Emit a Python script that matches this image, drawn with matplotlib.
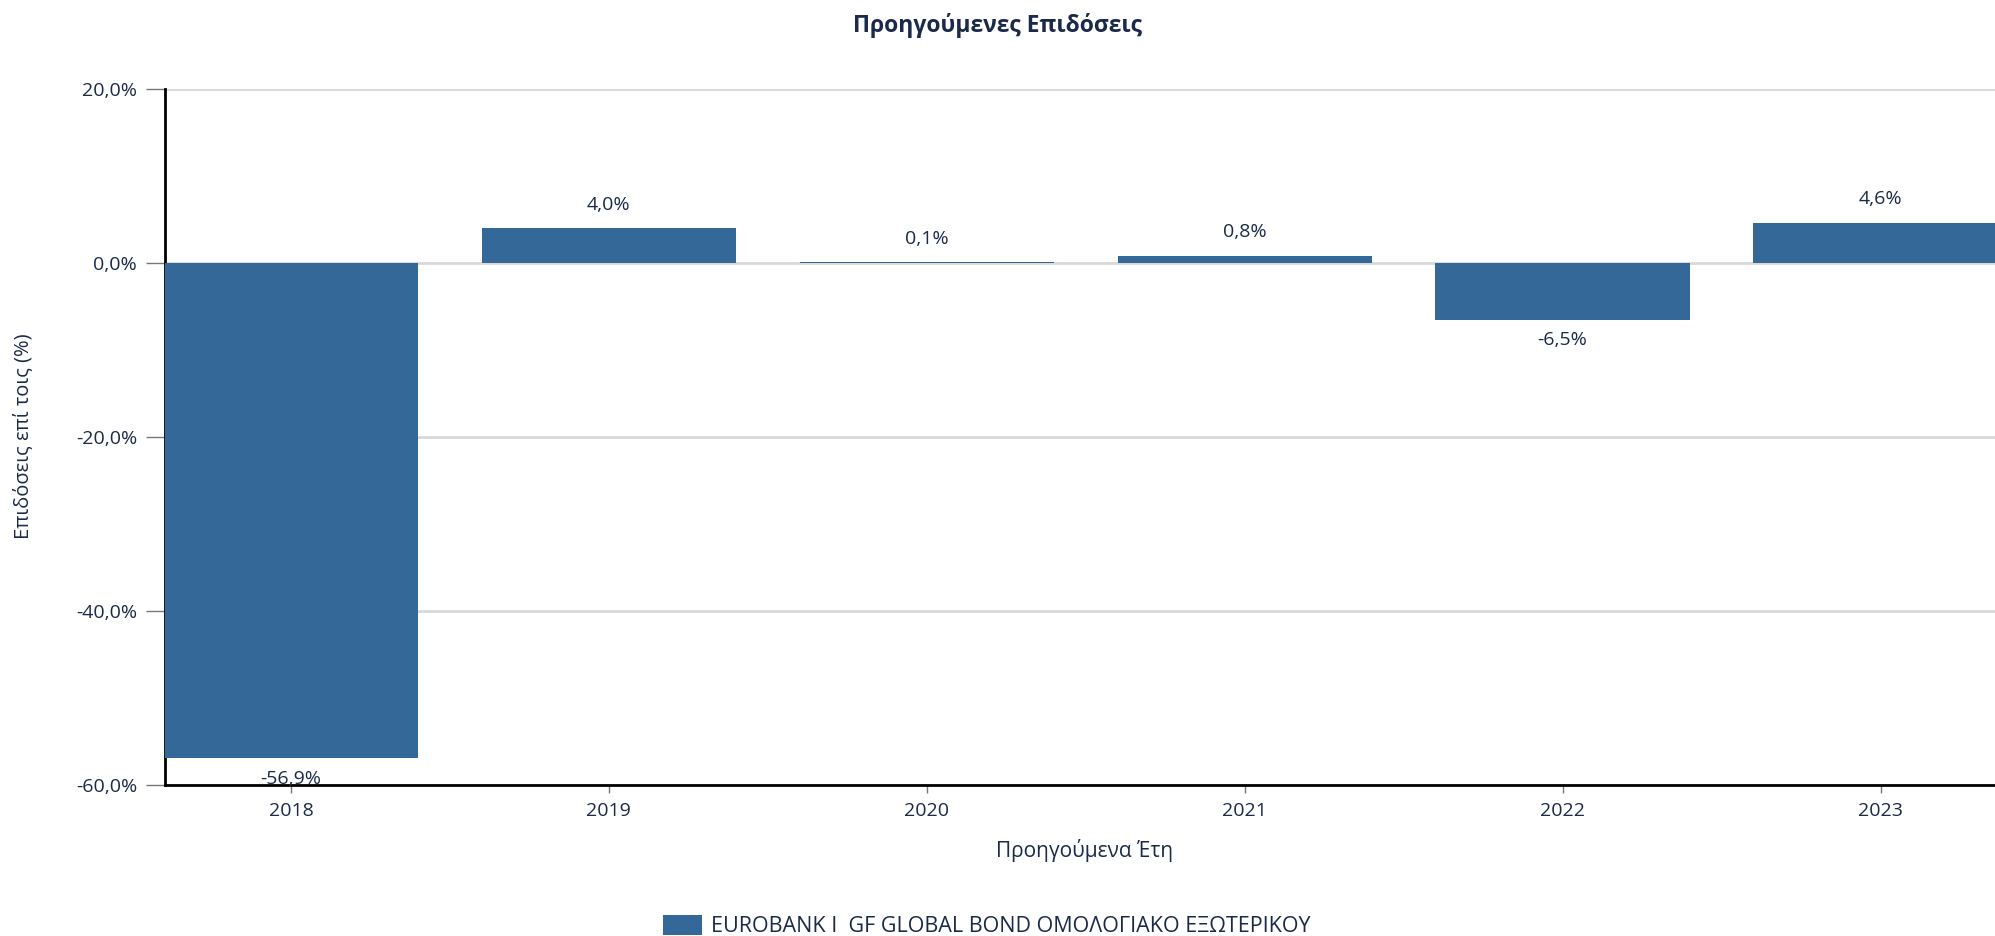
import matplotlib
matplotlib.use("Agg")
import matplotlib.pyplot as plt
from matplotlib.patches import Patch

plt.rcParams['font.family'] = ['Open Sans', 'Noto Sans', 'DejaVu Sans']

years = ['2018', '2019', '2020', '2021', '2022', '2023']
returns = [-56.9, 4.0, 0.1, 0.8, -6.5, 4.6]
yticks = [20, 0, -20, -40, -60]
title = 'Προηγούμενες Επιδόσεις'
xlabel = 'Προηγούμενα Έτη'
ylabel = 'Επιδόσεις επί τοις (%)'
series_name = 'EUROBANK I  GF GLOBAL BOND ΟΜΟΛΟΓΙΑΚΟ ΕΞΩΤΕΡΙΚΟΥ'

W, H = 1995, 936
text_c = '#1b2a4a'
bar_c = '#346899'
grid_c = '#d9d9d9'

fig = plt.figure(figsize=(W/100, H/100), dpi=100)
ax = fig.add_axes([165/W, 1-785/H, 1-165/W, (785-89)/H])

x = list(range(len(years)))
ax.bar(x, returns, width=0.8, color=bar_c, zorder=3)

ax.set_ylim(-60, 20)
ax.set_xlim(-0.396, 5.36)
ax.set_yticks(yticks)
ax.set_yticklabels([f'{v:.1f}%'.replace('.', ',') for v in yticks])
ax.set_xticks(x)
ax.set_xticklabels(years)

ax.grid(axis='y', color=grid_c, linewidth=2, zorder=0)
ax.set_axisbelow(True)
for s in ['top', 'right']:
    ax.spines[s].set_visible(False)
ax.spines['left'].set_color('black')
ax.spines['left'].set_linewidth(2)
ax.spines['bottom'].set_color('black')
ax.spines['bottom'].set_linewidth(2)
ax.spines['bottom'].set_zorder(5)

ax.tick_params(axis='y', length=14, width=1, color='#777777', colors=text_c,
               labelsize=14, pad=6)
ax.tick_params(axis='x', length=6, width=1, color='#777777', colors=text_c,
               labelsize=14, pad=6)
for lbl in ax.get_yticklabels() + ax.get_xticklabels():
    lbl.set_color(text_c)

for xi, v in zip(x, returns):
    off = 17 if v >= 0 else -15
    ax.annotate(f'{v:.1f}%'.replace('.', ','), (xi, v), xytext=(0, off),
                textcoords='offset points', ha='center', va='center',
                fontsize=14, color=text_c, zorder=6, annotation_clip=False)

fig.text(0.5, 1-25/H, title, ha='center', va='center', fontsize=16.5,
         fontweight='bold', color=text_c)
fig.text(1085/W, 1-850/H, xlabel, ha='center', va='center', fontsize=15, color=text_c)
fig.text(23/W, 1-436/H, ylabel, ha='center', va='center', rotation=90,
         fontsize=14.5, color=text_c)

handle = Patch(facecolor=bar_c, edgecolor='none')
fig.legend([handle], [series_name], loc='center left',
           bbox_to_anchor=(663/W, 1-926/H), frameon=False, fontsize=15.5,
           handlelength=1.8, handleheight=1.1, handletextpad=0.45,
           labelcolor=text_c, borderaxespad=0, borderpad=0)

fig.savefig('out.png', dpi=100)
